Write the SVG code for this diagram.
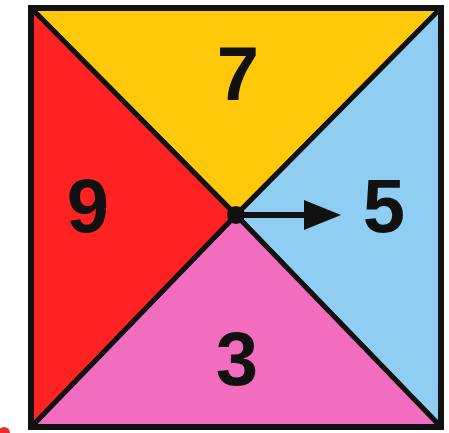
<svg xmlns="http://www.w3.org/2000/svg" width="449" height="433" viewBox="0 0 449 433">
<style>
.tri{stroke:#111;stroke-width:5;stroke-linejoin:round}
.lbl{font-family:"Liberation Sans",Arial,sans-serif;font-weight:bold;font-size:76px;fill:#111;text-anchor:middle}
</style>
<defs>
<marker id="ah" markerWidth="8" markerHeight="6" refX="0" refY="3" orient="auto" markerUnits="userSpaceOnUse" viewBox="0 0 8 6"><path d="M0,0 L8,3 L0,6 Z" fill="#111"/></marker>
</defs>
<rect width="449" height="433" fill="#fff"/>
<g id="top"><polygon class="tri" points="31,8 441,8 236,215" fill="#FFC808"/><text class="lbl" x="238" y="100">7</text></g>
<g id="right"><polygon class="tri" points="441,8 441,427 236,215" fill="#8FCDF3"/><text class="lbl" x="384" y="232">5</text></g>
<g id="bottom"><polygon class="tri" points="441,427 31,427 236,215" fill="#F26DBF"/><text class="lbl" x="237" y="385">3</text></g>
<g id="left"><polygon class="tri" points="31,427 31,8 236,215" fill="#FF2222"/><text class="lbl" x="88" y="232">9</text></g>
<rect x="31" y="8" width="410" height="419" fill="none" stroke="#111" stroke-width="6"/>
<g id="connectors">
<circle cx="236" cy="215" r="9" fill="#111"/>
<line x1="236" y1="215" x2="304" y2="215" stroke="#111" stroke-width="6"/>
<polygon points="304,200 341,215 304,230" fill="#111"/>
</g>
<circle cx="4" cy="433" r="6" fill="#E53030"/>
</svg>
